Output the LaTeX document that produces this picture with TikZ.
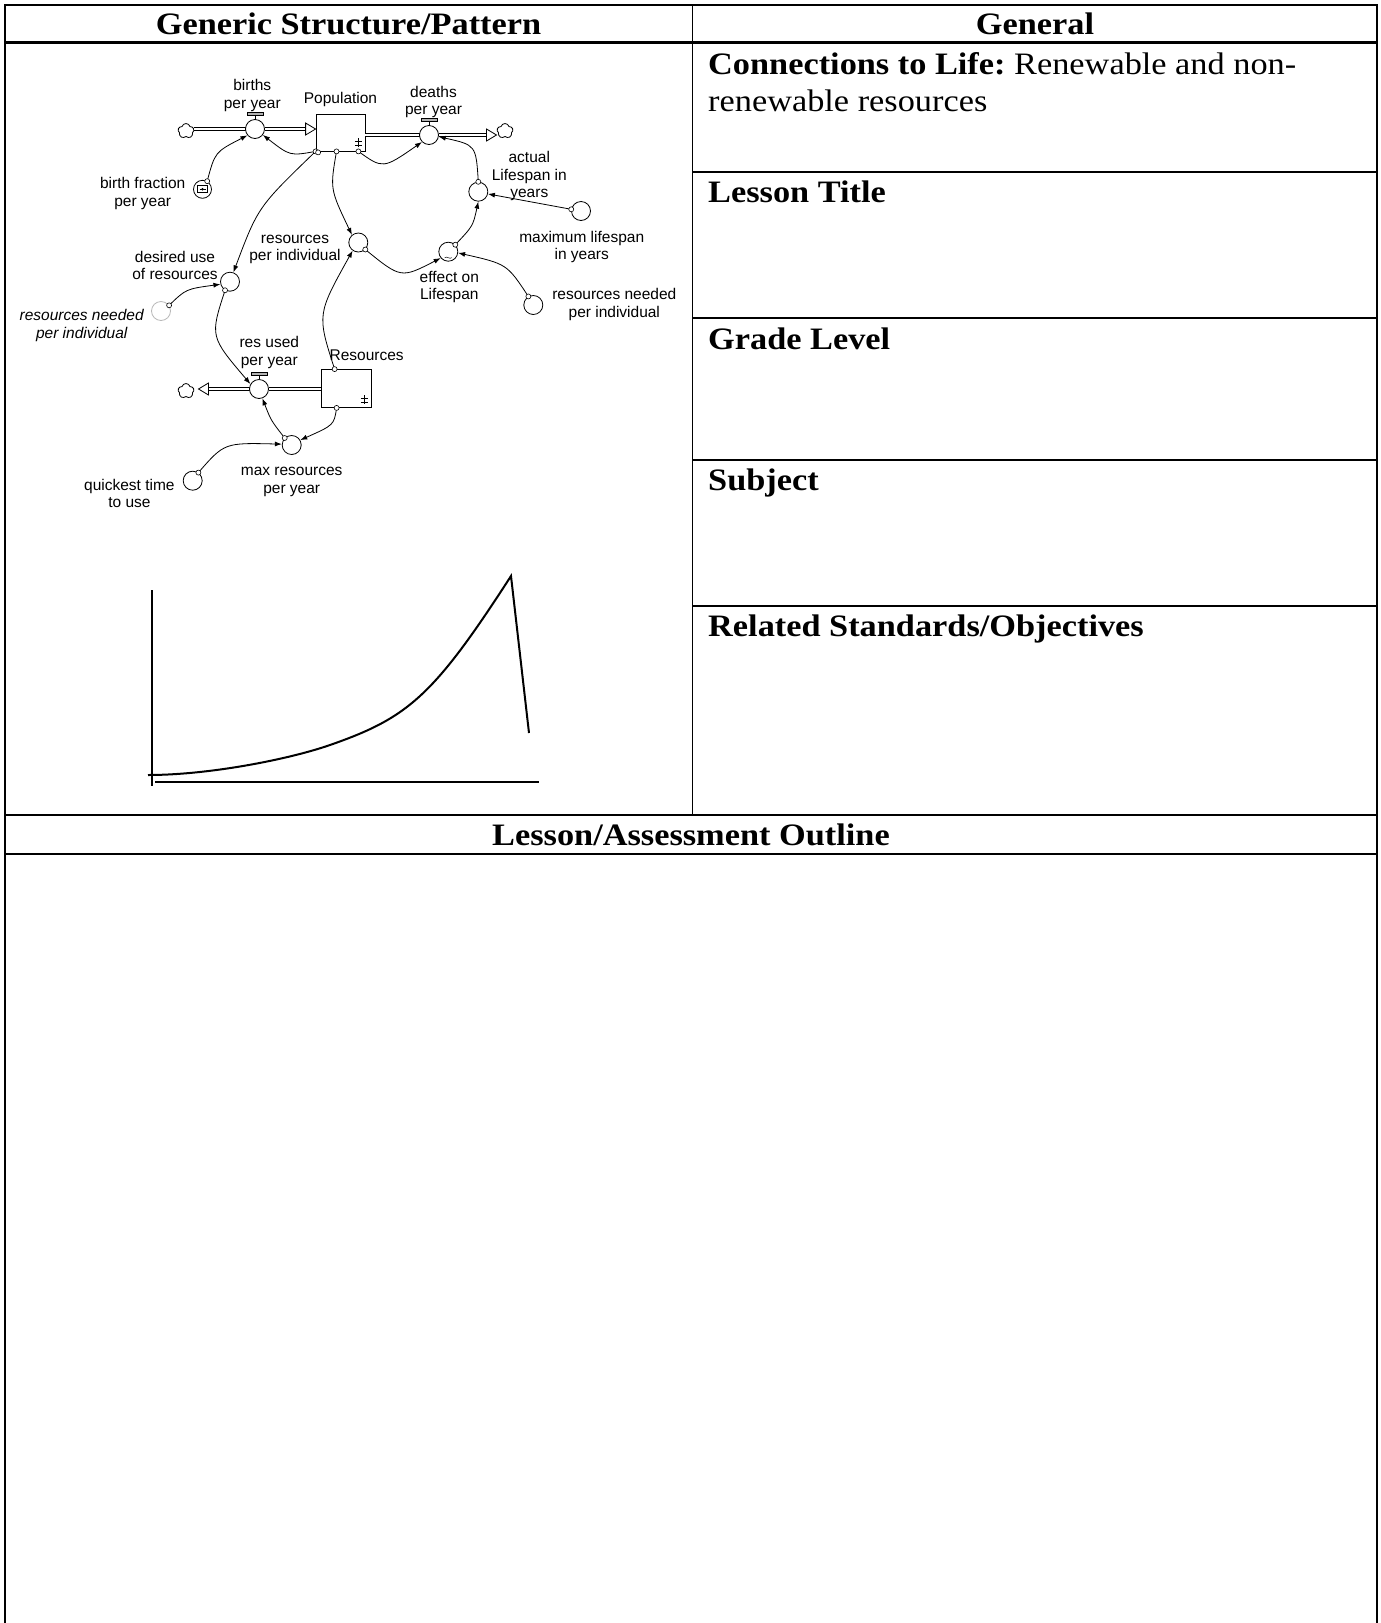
\documentclass[tikz,border=0pt]{standalone}
\usepackage{fontspec}
\setmainfont{Liberation Serif}
\newfontfamily\hdfont{Liberation Serif}[FakeStretch=1.1]
\newfontfamily\sdfont{Liberation Sans}
\usetikzlibrary{shapes.symbols,arrows.meta,calc}
\begin{document}
\frenchspacing
\begin{tikzpicture}[x=1pt,y=-1pt,
  tline/.style={line width=2.2pt},
  vline/.style={line width=1.4pt},
  hd/.style={font=\hdfont\bfseries\fontsize{31.2}{36}\selectfont, inner sep=0},
  hdr/.style={font=\hdfont\fontsize{31.2}{36}\selectfont, inner sep=0},
  lbl/.style={font=\sdfont\fontsize{15.5}{17.7}\selectfont, align=center, inner sep=0},
  aux/.style={circle, draw, fill=white, line width=0.8pt, minimum size=19pt, inner sep=0},
  valve/.style={circle, draw, fill=white, line width=0.8pt, minimum size=19pt, inner sep=0},
  stock/.style={rectangle, draw, line width=0.8pt, inner sep=0},
  cloudn/.style={cloud, cloud puffs=5, cloud puff arc=150, draw, line width=0.8pt, minimum width=16pt, minimum height=15pt, inner sep=0, aspect=1},
  link/.style={line width=0.8pt, -{Latex[length=7pt,width=5pt]}},
  pipe/.style={double, double distance=2.7pt, line width=0.75pt},
  orig/.style={circle, draw, fill=white, line width=0.6pt, minimum size=5pt, inner sep=0},
  tip/.style={draw, fill=white, line width=0.8pt, line join=miter},
  graphline/.style={line width=2pt}
]
\useasboundingbox (0,0) rectangle (1381,1623);
% ---------- table ----------
\draw[tline] (5,1630) -- (5,5) -- (1377,5) -- (1377,1630);
\draw[tline] (5,42.5) -- (1377,42.5);
\draw[vline] (692.5,5) -- (692.5,815);
\foreach \yy in {172,318,460,606} \draw[tline] (692.5,\yy) -- (1377,\yy);
\draw[tline] (5,815) -- (1377,815);
\draw[tline] (5,854) -- (1377,854);

\node[hd, anchor=base] (h1) at (348.5,34.3) {Generic Structure/Pattern};
\node[hd, anchor=base] (h2) at (1035,34.3) {General};
\node[hd, anchor=base west] (c1) at (708,74.5) {Connections to Life: {\mdseries Renewable and non-}};
\node[hdr, anchor=base west] (c2) at (708,111) {renewable resources};
\node[hd, anchor=base west] (lt) at (708,202.5) {Lesson Title};
\node[hd, anchor=base west] (gl) at (708,349.3) {Grade Level};
\node[hd, anchor=base west] (sj) at (708,490.8) {Subject};
\node[hd, anchor=base west] (rs) at (708,636) {Related Standards/Objectives};
\node[hd, anchor=base] (lo) at (691,845) {Lesson/Assessment Outline};

% ---------- stock & flow diagram ----------
\node[stock, minimum width=49pt, minimum height=37pt] (pop) at (340.5,132.5) {};
\node[stock, minimum width=50pt, minimum height=38pt] (res) at (346,388.5) {};
\node[cloudn] (cB) at (186,131) {};
\node[cloudn] (cD) at (505,131) {};
\node[cloudn] (cR) at (186,391) {};

% pipes
\coordinate (vBc) at (255,129);
\coordinate (vDc) at (429,135);
\coordinate (vRc) at (259,389);
\coordinate (tB) at (pop.west |- vBc);
\draw[pipe] (cB.east |- vBc) -- ($(vBc)+(-9.5,0)$);
\draw[pipe] ($(vBc)+(9.5,0)$) -- ($(tB)+(-10,0)$);
\draw[tip] (tB) -- ++(-10,-6) -- ++(0,12) -- cycle;
\coordinate (tD) at ($(vDc)+(67.5,0)$);
\draw[pipe] (pop.east |- vDc) -- ($(vDc)+(-9.5,0)$);
\draw[pipe] ($(vDc)+(9.5,0)$) -- ($(tD)+(-10,0)$);
\draw[tip] (tD) -- ++(-10,-6) -- ++(0,12) -- cycle;
\coordinate (tR) at ($(vRc)+(-60.5,0)$);
\draw[pipe] (res.west |- vRc) -- ($(vRc)+(9.5,0)$);
\draw[pipe] ($(vRc)+(-9.5,0)$) -- ($(tR)+(10,0)$);
\draw[tip] (tR) -- ++(10,-6) -- ++(0,12) -- cycle;

% valves
\node[valve] (vB) at (vBc) {};
\node[valve] (vD) at (vDc) {};
\node[valve] (vR) at (vRc) {};
\foreach \v in {vB,vD,vR}{
  \draw[line width=0.9pt] (\v.north) -- ++(0,-4.5);
  \draw[line width=0.6pt, fill=gray!60] ($(\v.north)+(-8,-4)$) rectangle ($(\v.north)+(8,-6.5)$);
}

% auxiliaries
\node[aux, minimum size=18pt] (bfr) at (202.5,189.3) {};
\draw[line width=0.7pt] ($(bfr)+(-5,-3.5)$) rectangle ($(bfr)+(5,3.5)$);
\draw[line width=0.7pt] ($(bfr)+(-3,0)$) -- ($(bfr)+(3,0)$);
\fill ($(bfr)+(0,0)$) circle (1.4);
\node[aux] (rpi) at (358.3,242.5) {};
\node[aux] (dur) at (230,281.7) {};
\node[aux, draw=gray!55] (rnl) at (161,311) {};
\node[aux] (al) at (478.3,191.7) {};
\node[aux] (ml) at (581,211) {};
\node[aux] (eol) at (448.3,251.7) {};
\draw[line width=0.5pt] ($(eol)+(-3.5,6)$) .. controls ($(eol)+(-1.5,4)$) and ($(eol)+(1.5,8)$) .. ($(eol)+(3.5,6)$);
\node[aux] (rnr) at (533.3,305) {};
\node[aux] (mrp) at (291.7,445) {};
\node[aux] (qt) at (192.7,480.7) {};

% stock marks
\foreach \s in {pop,res}{
  \draw[line width=0.6pt] ($(\s.south east)+(-7,-4)$) -- ++(0,-9);
  \draw[line width=0.6pt] ($(\s.south east)+(-10.5,-10)$) -- ++(7,0);
  \draw[line width=0.6pt] ($(\s.south east)+(-10.5,-6)$) -- ++(7,0);
}

% links
\coordinate (a1) at (pop.south west);
\coordinate (a3) at ($(pop.south east)+(-7,0)$);
\coordinate (a5) at ($(pop.south)+(-4,0)$);
\coordinate (a11) at ($(res.north west)+(14,0)$);
\coordinate (a14) at ($(res.south west)+(16,0)$);
\draw[link] (a1) .. controls (290,156) .. (vB.-37);
\draw[link] (bfr.60) .. controls (215,152) .. (vB.-140);
\draw[link] (a3) .. controls (383,169) .. (vD.-135);
\draw[link] (al.north) .. controls (476,145) .. (vD.-10);
\draw[link] (a5) .. controls (330,189) .. (rpi.130);
\draw[link] (a1) .. controls (258,207) .. (dur.70);
\draw[link] (eol.45) .. controls (473,226) .. (al.south);
\draw[link] (ml.170) -- (al.-13);
\draw[link] (rpi.-45) .. controls (401,278.5) .. (eol.-140);
\draw[link] (rnr.120) .. controls (507,264) .. (eol.-7);
\draw[link] (a11) .. controls (317,314.5) .. (rpi.-125);
\draw[link] (dur.-120) .. controls (210,336.5) .. (vR.150);
\draw[link] (rnl.35) .. controls (186,289) .. (dur.-165);
\draw[link] (a14) .. controls (334,425) .. (mrp.30);
\draw[link] (mrp.135) .. controls (271,420.5) .. (vR.-70);
\draw[link] (qt.55) .. controls (224.4,442.7) .. (mrp.175);
\foreach \p in {a1,a3,a5,a11,a14,bfr.60,al.north,eol.45,ml.170,rpi.-45,rnr.120,dur.-120,rnl.35,mrp.135,qt.55}
  \node[orig] at (\p) {};
\node[orig] at ($(a1)+(2.5,1)$) {};

% labels
\node[lbl] (l1) at (252.3,95.5) {births\\per year};
\node[lbl] (l2) at (340.5,99.5) {Population};
\node[lbl] (l3) at (433.5,102) {deaths\\per year};
\node[lbl] (l4) at (142.7,193.5) {birth fraction\\per year};
\node[lbl] (l5) at (529.3,176) {actual\\Lifespan in\\years};
\node[lbl] (l6) at (295,249.5) {resources\\per individual};
\node[lbl] (l7) at (581.7,247) {maximum lifespan\\in years};
\node[lbl] (l8) at (175,265.5) {desired use\\of resources};
\node[lbl] (l9) at (449.3,287) {effect on\\Lifespan};
\node[lbl] (l10) at (614.3,304.5) {resources needed\\per individual};
\node[lbl, font=\sdfont\itshape\fontsize{15.5}{17.7}\selectfont] (l11) at (81.7,325.5) {resources needed\\per individual};
\node[lbl] (l12) at (269.3,352.5) {res used\\per year};
\node[lbl] (l13) at (366.7,355) {Resources};
\node[lbl] (l14) at (291.7,482) {max resources\\per year};
\node[lbl] (l15) at (129.4,493.5) {quickest time\\to use};

% ---------- behaviour graph ----------
\coordinate (yax0) at (152,590);
\coordinate (yax1) at (152,786);
\coordinate (xax0) at (155,781.5);
\coordinate (xax1) at (539,781.5);
\draw[graphline] (yax0) -- (yax1);
\draw[graphline] (xax0) -- (xax1);
\draw[graphline, line join=miter] (148,775) .. controls (210,775) and (290,759) .. (330,745)
  .. controls (407.8,717.8) and (433.2,696.6) .. (511,576) -- (529,733);
\end{tikzpicture}
\end{document}
